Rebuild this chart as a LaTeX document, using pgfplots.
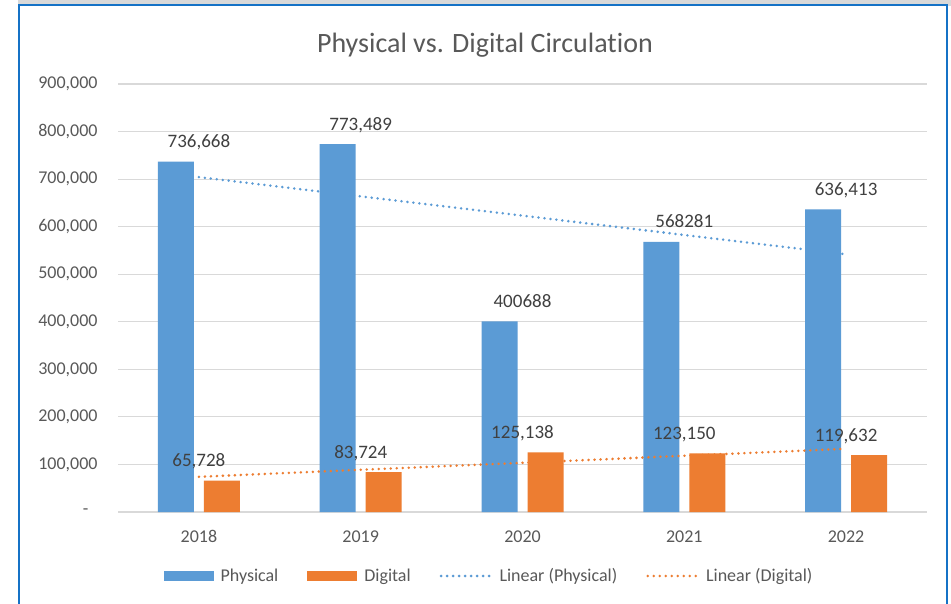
\documentclass[border=0pt]{standalone}
\usepackage{fontspec}
\setmainfont{Carlito}[Ligatures={NoCommon}]
\usepackage{pgfplots}
\pgfplotsset{compat=1.18}
\usepackage{pgfplotstable}
\definecolor{phys}{HTML}{5B9BD5}
\definecolor{digi}{HTML}{ED7D31}
\definecolor{txt}{HTML}{595959}
\definecolor{lbl}{HTML}{404040}
\definecolor{grd}{HTML}{D9D9D9}
\definecolor{brd}{HTML}{1572C6}

\pgfplotsset{
  barleg/.style={legend image code/.code={\fill[##1] (0bp,-5bp) rectangle (50bp,5bp);}},
  lineleg/.style={legend image code/.code={\draw[##1] (0bp,0bp) -- (50bp,0bp);}},
  barlbl/.style={nodes near coords,
    every node near coord/.append style={anchor=base, yshift=14bp, font=\fontsize{19bp}{22bp}\selectfont, text=lbl}},
}

\pgfplotstableread{
x y label
0 736668 736,668
1 773489 773,489
2 400688 400688
3 568281 568281
4 636413 636,413
}\physical
\pgfplotstableread{
x y label
0 65728 65,728
1 83724 83,724
2 125138 125,138
3 123150 123,150
4 119632 119,632
}\digital

\begin{document}
\begin{tikzpicture}
\useasboundingbox (0,0) rectangle (951bp,604bp);
\fill[white] (0,0) rectangle (951bp,604bp);
\fill[black!15] (18bp,598bp) rectangle (951bp,604bp);
\draw[brd, line width=2bp] (18.5bp,-2bp) -- (18.5bp,598.5bp) -- (947bp,598.5bp) -- (947bp,-2bp);
\begin{axis}[
  at={(118bp,92bp)}, anchor=south west,
  scale only axis, width=809bp, height=428bp,
  xmin=-0.5, xmax=4.5, ymin=0, ymax=900000,
  xtick={0,1,2,3,4}, xticklabels={2018,2019,2020,2021,2022},
  ytick={0,100000,200000,300000,400000,500000,600000,700000,800000,900000},
  yticklabels={{-\kern 9bp},{100,000},{200,000},{300,000},{400,000},{500,000},{600,000},{700,000},{800,000},{900,000}},
  axis line style={draw=none},
  major tick length=0pt,
  ymajorgrids, grid style={grd, line width=1.2bp},
  ticklabel style={font=\fontsize{18bp}{21bp}\selectfont, text=txt},
  yticklabel style={xshift=-17bp},
  xticklabel style={yshift=-15bp},
  scaled y ticks=false,
  clip=false,
  title={Physical vs. Digital Circulation},
  title style={at={(0.4536,1.0592)}, anchor=base, font=\fontsize{28bp}{32bp}\selectfont, text=txt},
  legend style={at={(0.4586,-0.1495)}, anchor=center, draw=none, fill=none,
    font=\fontsize{18bp}{21bp}\selectfont, text=txt,
    /tikz/every odd column/.append style={column sep=5bp},
    /tikz/every even column/.append style={column sep=27bp}},
  legend columns=4,
  legend cell align=left,
  point meta=explicit symbolic,
]
\addplot[ybar, bar width=36bp, bar shift=-23bp, fill=phys, draw=none, barlbl, barleg]
  table[x=x, y=y, meta=label] {\physical};
\addlegendentry{Physical}
\addplot[ybar, bar width=36bp, bar shift=23bp, fill=digi, draw=none, barlbl, barleg]
  table[x=x, y=y, meta=label] {\digital};
\addlegendentry{Digital}
\addplot[phys, sharp plot, line width=2.8bp, line cap=round, dash pattern=on 0pt off 6bp, lineleg]
  coordinates {(0,704251.4) (4,541964.2)};
\addlegendentry{Linear (Physical)}
\addplot[digi, sharp plot, line width=2.8bp, line cap=round, dash pattern=on 0pt off 6bp, lineleg]
  coordinates {(0,74027.6) (4,132921.2)};
\addlegendentry{Linear (Digital)}
\end{axis}
\end{tikzpicture}
\end{document}
